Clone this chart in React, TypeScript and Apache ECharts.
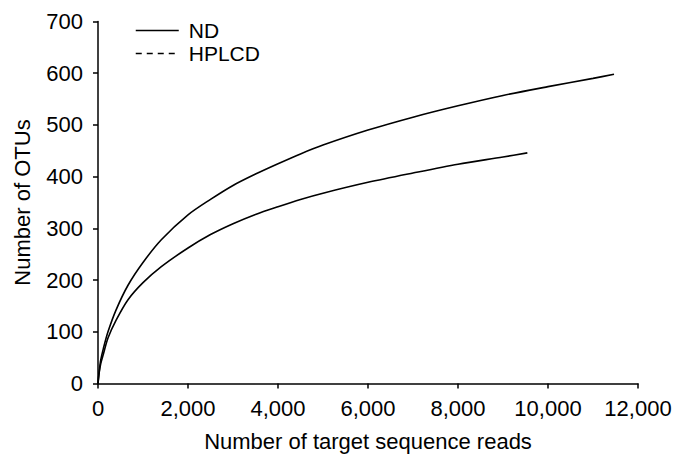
import React, { useEffect, useRef } from "react";
import * as echarts from "echarts";

const ndReads = [0, 25, 60, 120, 222, 400, 667, 1000, 1407, 2000, 2500, 3000, 3500, 4000, 4500, 5000, 6000, 7000, 8000, 9000, 10000, 11000, 11467];
const ndOtus = [0, 22, 45, 68, 100, 142, 190, 234, 278, 326, 356, 383, 405, 425, 444, 461, 490, 515, 537, 557, 574, 590, 598];

const hplcdReads = [0, 25, 60, 120, 222, 400, 667, 1000, 1407, 2000, 2500, 3000, 3500, 4000, 4500, 5000, 6000, 7000, 8000, 9000, 9541];
const hplcdOtus = [0, 20, 38, 57, 88, 122, 162, 195, 226, 262, 288, 309, 327, 342, 356, 368, 389, 407, 424, 438, 446];

const seriesNames = ["ND", "HPLCD"];
const xTicks = { min: 0, max: 12000, interval: 2000 };
const yTicks = { min: 0, max: 700, interval: 100 };

const FONT = "Liberation Sans, Arial, sans-serif";

export default function App() {
  const ref = useRef<HTMLDivElement>(null);
  useEffect(() => {
    if (!ref.current) return;
    const chart = echarts.init(ref.current, undefined, { renderer: "svg" });
    const axisCommon = {
      axisLine: { show: true, lineStyle: { color: "#000", width: 1.5 } },
      axisTick: { show: true, length: 5, lineStyle: { color: "#000", width: 1.5 } },
      splitLine: { show: false },
      nameLocation: "middle" as const,
      nameTextStyle: { fontFamily: FONT, fontSize: 22, color: "#000" },
    };
    chart.setOption({
      animation: false,
      backgroundColor: "#fff",
      grid: { left: 98, right: 46, top: 21.5, bottom: 84.5 },
      legend: {
        orient: "vertical",
        left: 130,
        top: 15,
        itemWidth: 43,
        itemHeight: 14,
        itemGap: 2,
        itemStyle: { opacity: 0 },
        textStyle: { fontFamily: FONT, fontSize: 21, color: "#000", padding: [0, 0, 0, 5], lineHeight: 20 },
        data: [
          { name: seriesNames[0], itemStyle: { opacity: 0 }, lineStyle: { type: "solid", color: "#000", width: 1.5 } },
          { name: seriesNames[1], itemStyle: { opacity: 0 }, lineStyle: { type: [6, 5], color: "#000", width: 1.5 } },
        ],
      },
      xAxis: {
        type: "value",
        ...xTicks,
        ...axisCommon,
        name: "Number of target sequence reads",
        nameGap: 47,
        axisLabel: {
          fontFamily: FONT,
          fontSize: 22,
          color: "#000",
          margin: 14,
          formatter: (v: number) => v.toLocaleString("en-US"),
        },
      },
      yAxis: {
        type: "value",
        ...yTicks,
        ...axisCommon,
        name: "Number of OTUs",
        nameGap: 65,
        axisLabel: { fontFamily: FONT, fontSize: 22, color: "#000", margin: 15 },
      },
      series: [
        {
          name: seriesNames[0],
          type: "line",
          symbol: "none",
          smooth: 0.3,
          lineStyle: { color: "#000", width: 1.6 },
          itemStyle: { color: "#000" },
          data: ndReads.map((x, i) => [x, ndOtus[i]]),
        },
        {
          name: seriesNames[1],
          type: "line",
          symbol: "none",
          smooth: 0.3,
          lineStyle: { color: "#000", width: 1.6 },
          itemStyle: { color: "#000" },
          data: hplcdReads.map((x, i) => [x, hplcdOtus[i]]),
        },
      ],
    });
    return () => chart.dispose();
  }, []);
  return <div ref={ref} style={{ width: 684, height: 468, position: "absolute", left: 0, top: 0 }} />;
}
